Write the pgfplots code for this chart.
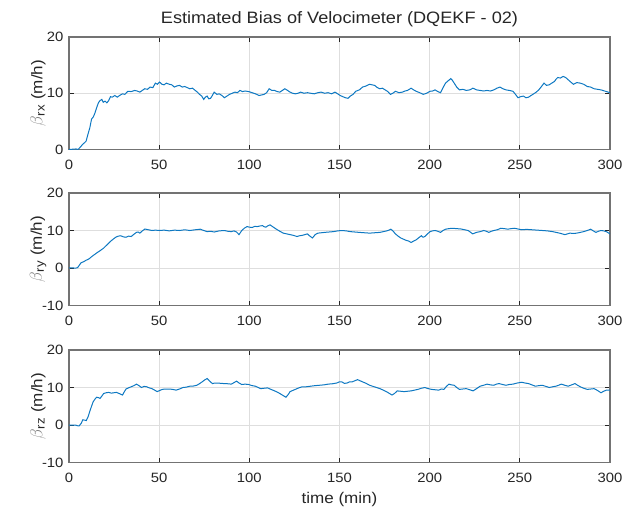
\documentclass[border=0pt]{standalone}
\usepackage{fontspec}
\setmainfont[FakeStretch=1.1]{Liberation Sans}
\usepackage{pgfplots}
\pgfplotsset{compat=1.18}
\definecolor{mblue}{rgb}{0.05,0.47,0.76}
\definecolor{axgray}{rgb}{0.45,0.45,0.45}
\definecolor{txt}{rgb}{0.15,0.15,0.15}
\definecolor{gridc}{rgb}{0.87,0.87,0.87}
\newcommand{\bt}[1]{{\fontsize{18}{18}\selectfont\color{gray}$\beta$}\textsubscript{\fontsize{12}{12}\selectfont #1}}
\pgfplotsset{
 mstyle/.style={
  scale only axis, width=541pt, height=112.5pt,
  xmin=0, xmax=300, xtick={0,50,100,150,200,250,300},
  grid=major, major grid style={gridc, line width=0.8pt},
  axis line style={axgray, line width=1.1pt},
  tick align=inside, major tick length=5pt,
  every tick/.style={txt, line width=0.8pt},
  tick label style={font=\fontsize{13.5}{15}\selectfont, text=txt},
  /pgf/number format/assume math mode=true,
  xticklabel style={yshift=-7pt},
  yticklabel style={xshift=-2pt},
  ylabel style={at={(axis description cs:-0.057,0.5)}, anchor=center, font=\fontsize{15.5}{17}\selectfont, text=txt},
 },
 lstyle/.style={mblue, line width=1pt, mark=none},
}
\begin{document}
\begin{tikzpicture}
\path[use as bounding box] (-69pt,37pt) rectangle (557pt,-475pt);
\begin{axis}[mstyle, at={(0pt,0pt)}, anchor=north west,
  ymin=0, ymax=20, ytick={0,10,20},
  ylabel={\bt{rx} (m/h)},
  title={Estimated Bias of Velocimeter (DQEKF - 02)},
  title style={font=\fontsize{16.5}{18}\selectfont, text=txt, yshift=1pt}]
\addplot[lstyle] coordinates {(0,0)(2,0.05)(4,0.1)(5,0.0)(6.5,0.5)(7.5,0.9)(8.6,1.2)(9.5,1.5)(10.5,2.7)(11.5,3.8)(12.5,5.4)(13.5,5.8)(14.4,6.5)(15.3,7.4)(16.3,8.3)(17.2,8.7)(18.2,8.9)(19,8.4)(20,8.6)(21,8.3)(22,8.7)(23,9.4)(24,9.3)(25.4,9.6)(26.8,9.3)(28,9.6)(29.7,9.9)(31,9.8)(32.6,10.35)(34.5,10.3)(36.4,10.5)(37.8,10.4)(39.3,10.2)(40.6,10.5)(42,10.8)(43.5,10.7)(45,11.1)(46.5,11.0)(47.9,11.8)(49,11.6)(50.2,12.0)(51.5,11.6)(52.7,11.5)(54,11.8)(55.6,11.6)(57,11.5)(58.4,11.1)(59.8,11.3)(61.3,11.4)(62.8,11.1)(64.2,11.2)(65.6,11.0)(67,10.8)(68.5,10.9)(70,10.5)(71.2,10.2)(72.4,9.8)(73.6,9.5)(74.7,8.9)(75.6,9.3)(76.6,9.5)(77.5,9.0)(78.5,9.1)(79.5,9.6)(80.5,10.2)(82,9.8)(83.3,9.9)(84.8,9.6)(86.2,9.2)(87.6,9.5)(89,9.8)(90.5,10.0)(92,10.2)(93.4,10.1)(94.8,10.5)(96.2,10.3)(97.7,10.4)(99.6,10.3)(101.5,10.1)(103.4,9.9)(105.4,9.6)(106.8,9.7)(108.2,9.8)(109.6,10.1)(111,10.8)(112.5,10.5)(114,10.5)(115.4,10.3)(116.9,10.2)(118.3,10.5)(119.7,10.8)(121.2,10.5)(122.6,10.2)(124,10.0)(125.5,9.9)(127,10.0)(128.4,10.2)(130.3,10.0)(132.2,10.1)(134,10.0)(136,9.9)(138,10.1)(139.8,10.2)(141.8,10.0)(143.7,10.1)(145.6,9.9)(147.5,10.2)(149,9.9)(150.4,9.6)(151.8,9.4)(153.3,9.2)(154.7,9.1)(156,9.5)(157.5,9.8)(159,10.35)(161,10.6)(162.8,11.1)(164.8,11.3)(166.7,11.6)(168,11.5)(169.5,11.4)(171,11.0)(172.4,10.8)(173.8,10.9)(175.3,10.6)(176.8,10.3)(178.2,9.8)(179.6,10.0)(181,10.35)(183,10.1)(184.9,10.2)(186.3,10.4)(187.7,10.5)(188.7,10.7)(189.7,10.9)(191.1,10.6)(192.5,10.35)(194.5,10.1)(196.4,9.8)(198.3,10.0)(200.2,10.35)(201.6,10.4)(203,10.6)(204.5,10.3)(206,10.1)(207.4,11.0)(208.8,11.8)(210.2,12.2)(211.7,12.6)(212.6,12.3)(213.6,11.8)(215,11.1)(216.5,10.6)(218.4,10.7)(220.3,10.5)(222.2,10.6)(224,10.9)(226,10.6)(228,10.5)(229.9,10.4)(231.8,10.5)(233.7,10.4)(235.6,10.6)(237.3,10.9)(239,11.1)(240.6,10.8)(242.3,10.6)(244.2,10.5)(246.2,10.35)(247.6,9.8)(249,9.2)(250.5,9.4)(252,9.5)(253.4,9.2)(254.8,9.3)(256.2,9.6)(257.7,9.9)(259.1,10.2)(260.5,10.6)(262,11.2)(263.4,11.8)(264.8,11.4)(266.3,11.5)(267.7,11.8)(269.2,12.1)(270.1,12.5)(271,12.8)(272.5,12.7)(274,13.0)(275.4,12.8)(276.8,12.4)(278.2,12.0)(279.7,11.6)(281.6,11.9)(283.5,11.8)(285.4,11.6)(287.4,11.2)(289.3,11.1)(291.2,10.8)(293.1,10.7)(295,10.6)(297,10.4)(299,10.2)(300,10.1)};
\end{axis}
\begin{axis}[mstyle, at={(0pt,-156pt)}, anchor=north west,
  ymin=-10, ymax=20, ytick={-10,0,10,20},
  ylabel={\bt{ry} (m/h)}]
\addplot[lstyle] coordinates {(0,0)(2,0.05)(3.5,-0.05)(4.8,0.1)(5.8,0.8)(6.7,1.4)(8.2,1.7)(9.6,2.1)(11,2.4)(12.5,3.0)(13.9,3.5)(15.3,4.0)(17.2,4.6)(19.2,5.3)(21.1,6.2)(23,7.1)(24.5,7.7)(25.9,8.2)(27.3,8.5)(28.7,8.6)(30.2,8.3)(31.6,8.2)(33,8.5)(34.5,8.4)(36,9.0)(37.4,9.5)(38.3,9.6)(39.3,9.3)(40.7,9.9)(42.1,10.4)(44,10.2)(46,10.0)(48,10.1)(50,10.0)(52.8,10.1)(55.6,9.9)(58.5,10.1)(61.3,10.0)(64.2,10.2)(67,10.0)(70,10.2)(72.8,10.35)(74.7,10.0)(76.6,9.7)(78.5,9.8)(80.5,9.6)(83.3,9.9)(86.2,10.0)(88,9.8)(90,9.7)(91.5,9.9)(92.9,9.6)(94.3,8.9)(95.8,10.0)(97.2,10.6)(98.7,11.05)(100,10.9)(101.5,10.8)(103,11.1)(104.4,11.05)(105.8,11.2)(107.3,11.3)(108.2,11.0)(109.2,10.9)(110.4,11.3)(111.5,11.5)(113.3,10.9)(115,10.35)(116.9,9.8)(118.8,9.3)(120.7,9.1)(122.6,8.9)(124.5,8.7)(126.4,8.4)(127.9,8.6)(129.3,8.7)(130.8,8.9)(132.2,9.1)(133.6,8.5)(135,8.0)(136.5,8.9)(138,9.3)(139.9,9.4)(141.8,9.5)(144.2,9.6)(146.6,9.7)(149,9.9)(151.3,10.0)(153.7,9.9)(156,9.7)(158.5,9.6)(161,9.5)(163.8,9.4)(166.7,9.3)(169.5,9.4)(172.4,9.5)(174.3,9.7)(176.2,9.9)(177.4,10.1)(178.5,10.35)(179.8,9.8)(181,9.1)(182.5,8.5)(184,8.0)(185.4,7.7)(186.8,7.4)(188.3,7.2)(189.7,6.8)(191.1,7.2)(192.5,7.5)(194,8.1)(195.4,8.6)(196.3,8.2)(197.3,8.4)(198.8,9.1)(200.2,9.7)(201.6,9.9)(203,10.0)(204.5,9.8)(206,9.5)(207.4,10.0)(208.8,10.35)(210.7,10.5)(212.6,10.6)(215,10.5)(217.4,10.4)(219.4,10.2)(221.3,10.0)(222.5,9.6)(223.8,9.1)(224.9,9.3)(226,9.5)(228,9.7)(230,10.0)(231.4,9.8)(232.8,9.5)(234.2,9.8)(235.6,10.0)(237.5,10.2)(239.5,10.6)(241.4,10.5)(243.3,10.35)(245.2,10.5)(247,10.6)(249,10.4)(251,10.2)(253.8,10.3)(256.7,10.2)(259.6,10.1)(262.5,10.0)(265.3,9.9)(268.2,9.7)(270.1,9.5)(272,9.3)(273.5,9.1)(275,8.9)(276.4,9.1)(277.8,9.3)(279.7,9.2)(281.6,9.3)(283.5,9.5)(285.4,9.7)(287.4,10.0)(289.3,10.35)(290.7,9.9)(292.2,9.5)(293.6,9.8)(295,10.0)(296.5,9.9)(298,9.7)(299,9.4)(300,9.1)};
\end{axis}
\begin{axis}[mstyle, at={(0pt,-313pt)}, anchor=north west,
  ymin=-10, ymax=20, ytick={-10,0,10,20},
  ylabel={\bt{rz} (m/h)},
  xlabel={time (min)},
  xlabel style={at={(axis description cs:0.5,0)}, anchor=center, yshift=-37pt, font=\fontsize{15.5}{17}\selectfont, text=txt}]
\addplot[lstyle] coordinates {(0,0)(2,0.0)(3.8,-0.05)(4.8,-0.2)(5.7,-0.2)(6.7,0.4)(7.7,1.4)(8.6,1.3)(9.6,1.2)(10.6,2.2)(11.5,3.6)(12.5,5.0)(13.4,6.2)(14.4,6.9)(15.3,7.4)(16.3,7.3)(17.2,7.1)(18.2,7.7)(19.2,8.4)(20.6,8.6)(22,8.7)(23.5,8.5)(24.9,8.6)(26.3,8.7)(27.8,8.4)(28.7,8.2)(29.7,8.0)(30.6,8.8)(31.6,9.6)(33,9.9)(34.5,10.2)(36,10.5)(37.4,10.9)(38.8,10.5)(40.2,10.0)(41.6,10.3)(43.1,10.2)(44.5,9.9)(46,9.7)(47.5,9.3)(48.9,8.9)(50.3,9.2)(51.7,9.5)(53.6,9.6)(55.6,9.6)(57.5,9.5)(59.4,9.3)(61.3,9.6)(63.2,10.0)(65.1,10.1)(67,10.35)(69,10.4)(70.9,10.6)(72.3,11.0)(73.8,11.5)(75.2,12.0)(76.6,12.4)(78,11.7)(79.5,11.05)(81,11.2)(82.4,11.2)(84.3,11.1)(86.2,11.05)(88.1,11.0)(90,10.9)(91.5,11.3)(92.9,11.7)(94.3,11.2)(95.8,10.8)(97.7,10.9)(99.6,10.8)(101.5,10.5)(103.4,10.35)(104.9,10.0)(106.3,9.7)(108.2,9.8)(110.1,9.9)(112,9.5)(114,9.1)(115.4,8.8)(116.9,8.4)(118.6,7.9)(120.3,7.4)(121.5,8.1)(122.6,8.9)(124,9.2)(125.5,9.5)(127.4,9.9)(129.3,10.2)(131.6,10.2)(134,10.35)(136.4,10.5)(138.9,10.6)(141.3,10.7)(143.7,10.9)(146.1,11.0)(148.5,11.2)(149.9,11.5)(151.3,11.5)(152.7,11.1)(154.2,11.2)(155.6,11.5)(157,11.5)(158.5,11.8)(160,12.1)(161.4,11.8)(162.8,11.5)(164.8,11.1)(166.7,10.6)(168.6,10.3)(170.5,10.0)(172.4,9.7)(174.3,9.3)(176.7,8.7)(179.1,8.0)(180.5,8.4)(182,9.1)(183.9,9.0)(185.8,8.9)(187.7,9.0)(189.7,9.1)(191.6,9.3)(193.5,9.5)(195.4,9.8)(197.3,10.0)(199.2,9.7)(201.1,9.5)(203,9.4)(205,9.3)(206.5,9.6)(207.9,9.5)(209.3,10.3)(210.7,10.9)(212.1,10.7)(213.6,10.6)(215,10.0)(216.5,9.5)(218.4,9.6)(220.3,9.7)(222.2,9.4)(224.1,9.1)(226,9.7)(228,10.35)(229.9,10.6)(231.8,10.9)(233.7,10.7)(235.6,10.6)(237,10.9)(238.5,11.05)(240.4,10.8)(242.3,10.6)(244.2,10.8)(246.2,10.9)(248.6,11.2)(251,11.4)(252.9,11.2)(254.8,11.05)(256.7,10.7)(258.6,10.35)(260.5,10.5)(262.5,10.6)(264.4,10.3)(266.3,10.0)(268.2,10.2)(270,10.35)(271.5,10.6)(273,10.9)(274.9,10.6)(276.8,10.35)(278.7,10.7)(280.6,11.05)(282,10.6)(283.5,10.2)(285.4,9.8)(287.4,9.5)(289.3,9.6)(291.2,9.7)(293.1,9.2)(295,8.6)(296.5,9.0)(298,9.3)(300,9.3)};
\end{axis}
\end{tikzpicture}
\end{document}
